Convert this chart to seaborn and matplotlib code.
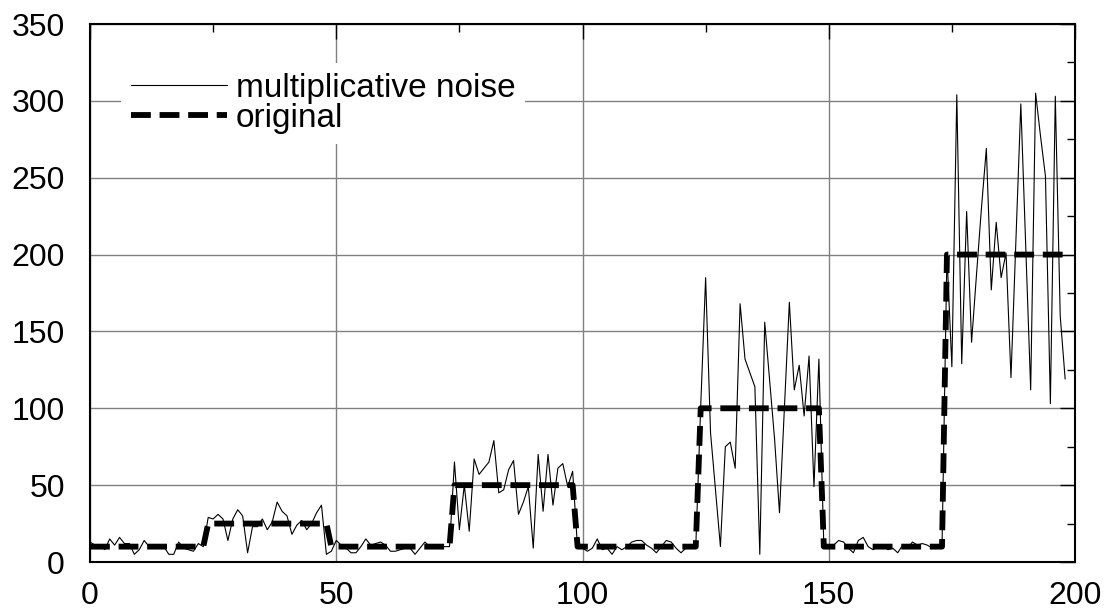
import numpy as np
import pandas as pd
import matplotlib
matplotlib.use("Agg")
import matplotlib.pyplot as plt
import seaborn as sns
from matplotlib.ticker import MultipleLocator

# ---------------- data ----------------
x_index = list(range(199))

noise = [
    # 0-23
    13, 11, 11, 8, 15, 11, 16, 12, 12, 5, 8, 14, 10, 11, 10, 10, 5, 5, 13, 9, 8, 7, 12, 10,
    # 24-48
    29, 28, 31, 28, 14, 28, 34, 30, 6, 23, 23, 28, 21, 26, 39, 33, 30, 18, 24, 27, 21, 25, 32, 37, 5,
    # 49-73
    7, 14, 11, 9, 6, 6, 10, 15, 11, 12, 13, 11, 7, 7, 8, 9, 9, 5, 9, 13, 10, 9, 10, 10, 10,
    # 74-98
    65, 21, 50, 20, 67, 57, 61, 65, 79, 45, 47, 60, 66, 31, 39, 49, 9, 70, 33, 70, 37, 61, 64, 49, 59,
    # 99-123
    9, 9, 7, 9, 15, 8, 9, 5, 10, 8, 10, 13, 14, 14, 11, 9, 6, 10, 14, 13, 9, 6, 9, 10, 10,
    # 124-148
    101, 185, 84, 47, 10, 75, 78, 61, 168, 132, 123, 114, 5, 156, 118, 80, 32, 100, 169, 112, 128, 95, 134, 49, 132,
    # 149-173
    10, 9, 11, 14, 13, 9, 6, 14, 16, 10, 8, 10, 11, 8, 9, 6, 11, 9, 13, 11, 12, 11, 9, 9, 10,
    # 174-198
    200, 127, 304, 129, 228, 143, 187, 230, 269, 177, 221, 185, 201, 120, 209, 298, 205, 112, 305, 277, 251, 103, 303, 160, 119,
]

step_levels = [10, 25, 10, 50, 10, 100, 10, 200]
step_lengths = [24, 25, 25, 25, 25, 25, 25, 25]
original = list(np.repeat(step_levels, step_lengths))

x_ticks = [0, 50, 100, 150, 200]
y_ticks = [0, 50, 100, 150, 200, 250, 300, 350]
labels = ["multiplicative noise", "original"]

# ---------------- figure ----------------
sns.set_style("white")
plt.rcParams['font.family'] = ['Liberation Sans', 'DejaVu Sans']
plt.rcParams['text.color'] = 'black'
plt.rcParams['xtick.color'] = 'black'
plt.rcParams['ytick.color'] = 'black'
plt.rcParams['xtick.labelcolor'] = 'black'
plt.rcParams['ytick.labelcolor'] = 'black'

fig = plt.figure(figsize=(11.09, 6.14), dpi=100)
ax = fig.add_axes([90 / 1109, 1 - 562 / 614, (1075 - 90) / 1109, (562 - 24) / 614])

df = pd.DataFrame({"x": x_index, "noise": noise, "original": original})

sns.lineplot(data=df, x="x", y="noise", ax=ax, color="black", linewidth=0.8,
             label=labels[0], zorder=3)
sns.lineplot(data=df, x="x", y="original", ax=ax, color="black", linewidth=4.2,
             label=labels[1], zorder=4)
ax.lines[-1].set_dashes((3.4, 1.5))
ax.lines[-1].set_dash_capstyle("butt")

ax.set_xlim(0, 200)
ax.set_ylim(0, 350)
ax.set_xticks(x_ticks)
ax.set_yticks(y_ticks)
ax.xaxis.set_minor_locator(MultipleLocator(25))
ax.yaxis.set_minor_locator(MultipleLocator(25))
ax.set_xlabel("")
ax.set_ylabel("")

ax.set_axisbelow(True)
ax.grid(True, which="major", color="#808080", linewidth=1.0)
ax.tick_params(which="both", direction="in", top=True, right=True,
               color="black", width=1.0, labelsize=23, labelcolor="black")
ax.tick_params(which="major", length=11)
ax.tick_params(which="minor", length=5.5)
ax.tick_params(axis="y", pad=18)
ax.tick_params(axis="x", pad=14)
for s in ax.spines.values():
    s.set_color("black")
    s.set_linewidth(1.5)

leg = ax.legend(loc="upper left", bbox_to_anchor=(0.031, 0.928), frameon=True,
                fancybox=False, edgecolor="none", facecolor="white", framealpha=1,
                fontsize=24, handlelength=2.9, handletextpad=0.25,
                labelspacing=-0.02, borderpad=0.3, borderaxespad=0)
for t in leg.get_texts():
    t.set_color("black")

fig.savefig("out.png", dpi=100)
